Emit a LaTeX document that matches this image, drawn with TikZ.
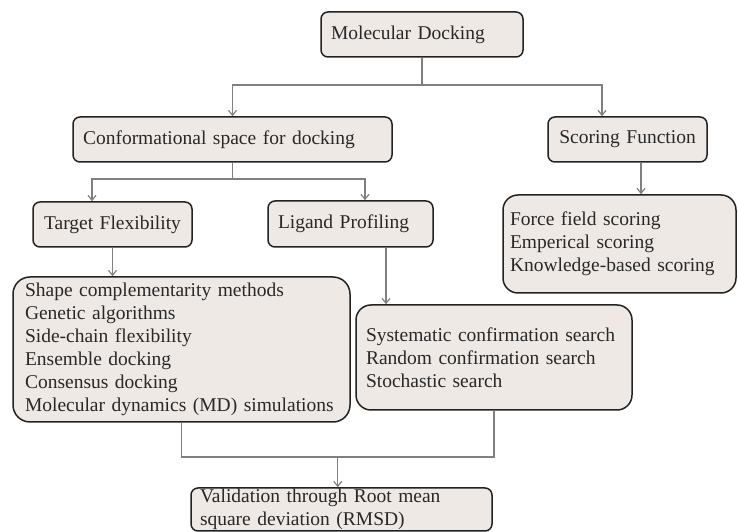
\documentclass[tikz,border=0pt]{standalone}
\usepackage{fontspec}
\setmainfont{Liberation Serif}
\usetikzlibrary{arrows.meta,calc}
\definecolor{boxfill}{RGB}{238,233,229}
\definecolor{boxline}{RGB}{34,34,34}
\definecolor{linegray}{RGB}{128,128,128}
\definecolor{textdark}{RGB}{40,40,40}
\tikzset{
  box/.style={draw=boxline, line width=1.5pt, fill=boxfill, rounded corners=7pt,
    text=textdark, font=\fontsize{19.5}{23}\selectfont, inner ysep=0pt, align=left},
  conn/.style={draw=linegray, line width=1.2pt},
  arr/.style={conn, -{Straight Barb[length=5pt,width=8pt]}},
}
\begin{document}
\begin{tikzpicture}[x=1pt,y=1pt]
  \useasboundingbox (0,0) rectangle (738,532);
  \fill[white] (0,0) rectangle (738,532);

  % boxes
  \node[box, minimum height=45pt, text width=182pt, inner xsep=10pt] (md) at (422,497.5) {Molecular Docking};
  \node[box, minimum height=45pt, text width=299pt, inner xsep=10pt] (conf) at (232.5,392.5) {Conformational space for docking};
  \node[box, minimum height=45pt, text width=143pt, inner xsep=8pt, align=center] (sf) at (627.5,392.5) {Scoring Function};
  \node[box, minimum height=45pt, text width=143pt, inner xsep=8pt, align=center] (tf) at (112.5,307.5) {Target Flexibility};
  \node[box, minimum height=46pt, text width=145pt, inner xsep=10pt] (lig) at (350.5,308) {Ligand Profiling};
  \node[box, rounded corners=17pt, minimum height=145pt, text width=313pt, inner xsep=12pt] (tlist) at (181.5,182.5)
    {Shape complementarity methods\\Genetic algorithms\\Side-chain flexibility\\Ensemble docking\\Consensus docking\\Molecular dynamics (MD) simulations};
  \node[box, rounded corners=15pt, minimum height=98pt, text width=219pt, inner xsep=7pt] (slist) at (619.5,288)
    {Force field scoring\\Emperical scoring\\Knowledge-based scoring};
  \node[box, rounded corners=15pt, minimum height=105pt, text width=256pt, inner xsep=10pt] (sys) at (494,174.5)
    {Systematic confirmation search\\Random confirmation search\\Stochastic search};
  \node[box, minimum height=43pt, text width=283pt, inner xsep=9pt] (val) at (341.5,22.5)
    {Validation through Root mean\\square deviation (RMSD)};

  % connectors
  \coordinate (j1) at (md.south |- 0,447);
  \draw[conn] (md.south) -- (j1);
  \draw[arr] (j1) -| (conf.north);
  \draw[arr] (j1) -| ([xshift=-25.5pt]sf.north);

  \coordinate (j2) at (conf.south |- 0,353);
  \draw[conn] (conf.south) -- (j2);
  \draw[arr] (j2) -| ([xshift=-20.5pt]tf.north);
  \draw[arr] (j2) -| ([xshift=14.5pt]lig.north);

  \draw[arr] (tf.south) -- (tf.south |- tlist.north);
  \coordinate (ld) at ([xshift=35.5pt]lig.south);
  \draw[arr] (ld) -- (ld |- sys.north);
  \coordinate (sd) at ([xshift=13.5pt]sf.south);
  \draw[arr] (sd) -- (sd |- slist.north);

  \coordinate (jl) at (tlist.south |- 0,75);
  \coordinate (jr) at (sys.south |- 0,75);
  \draw[conn] (tlist.south) -- (jl) -- (jr) -- (sys.south);
  \coordinate (jm) at ($(jl)!0.5!(jr)$);
  \draw[arr] (jm) -- (jm |- val.north);
\end{tikzpicture}
\end{document}
